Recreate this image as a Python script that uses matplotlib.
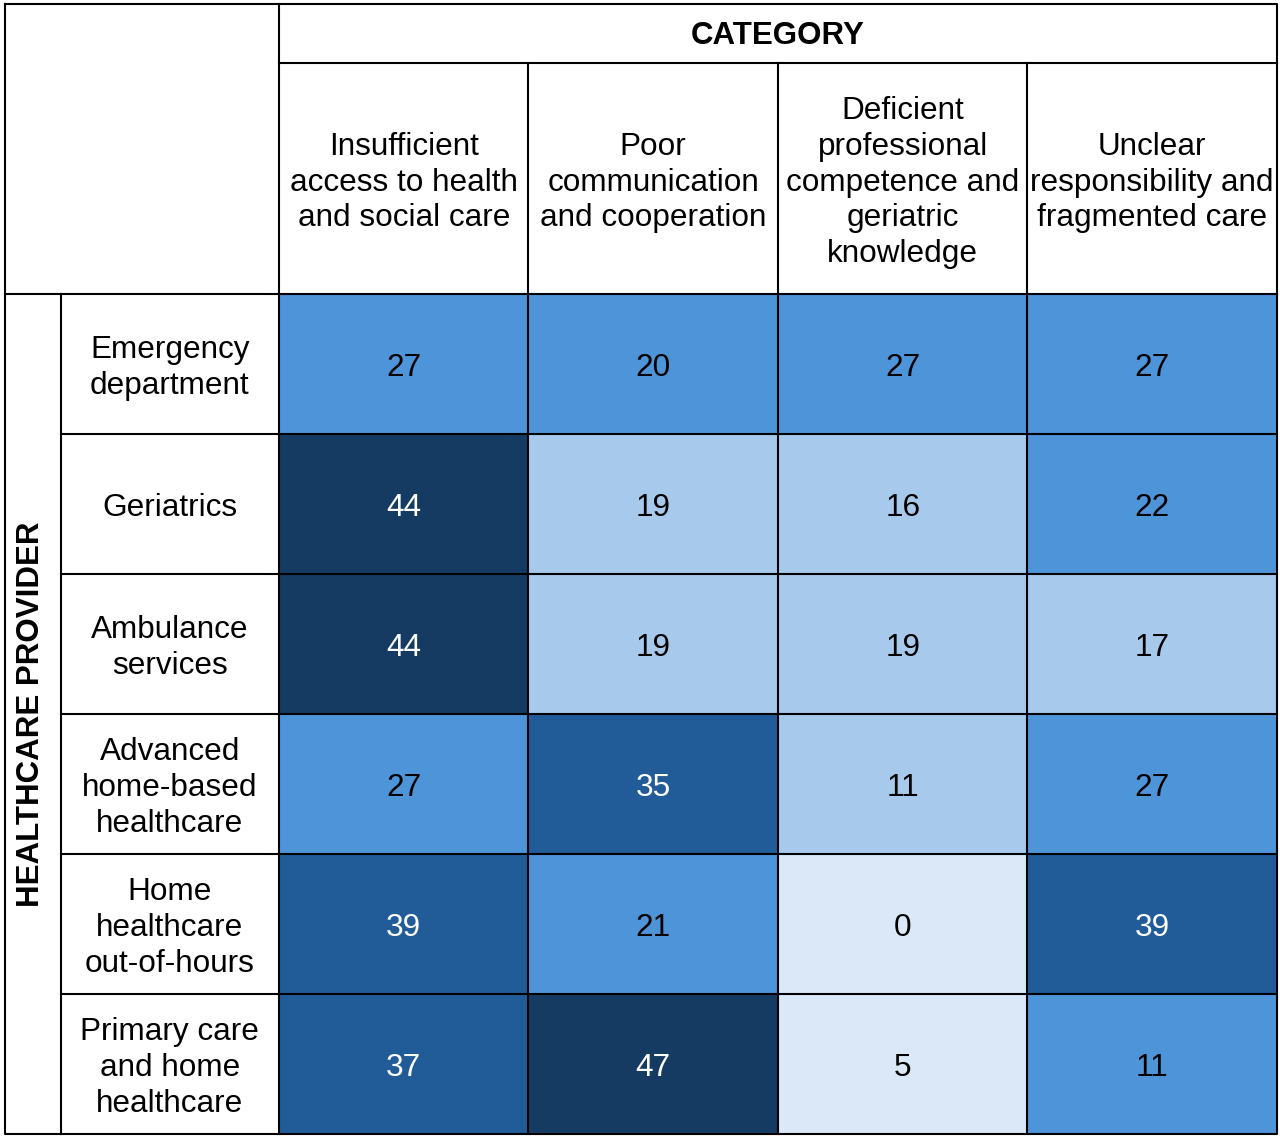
import numpy as np
import matplotlib.pyplot as plt
from matplotlib.colors import ListedColormap

plt.rcParams['font.family'] = ['Liberation Sans', 'DejaVu Sans']

# Data
categories = [
    'Insufficient\naccess to health\nand social care',
    'Poor\ncommunication\nand cooperation',
    'Deficient\nprofessional\ncompetence and\ngeriatric\nknowledge',
    'Unclear\nresponsibility and\nfragmented care',
]
providers = [
    'Emergency\ndepartment',
    'Geriatrics',
    'Ambulance\nservices',
    'Advanced\nhome-based\nhealthcare',
    'Home\nhealthcare\nout-of-hours',
    'Primary care\nand home\nhealthcare',
]
values = np.array([
    [27, 20, 27, 27],
    [44, 19, 16, 22],
    [44, 19, 19, 17],
    [27, 35, 11, 27],
    [39, 21, 0, 39],
    [37, 47, 5, 11],
])
# colour class of each cell (0 = lightest)
levels = np.array([
    [2, 2, 2, 2],
    [4, 1, 1, 2],
    [4, 1, 1, 1],
    [2, 3, 1, 2],
    [3, 2, 0, 3],
    [3, 4, 0, 2],
])
level_colors = ['#DAE8F7', '#A7C9EC', '#4D94D9', '#215C98', '#163B62']

# Layout (in cell units)
label_w = 0.874
vert_w = 0.224
sub_h = 1.65
cat_h = 0.42
dy = 0.03  # small downward nudge so text sits like the original

fig = plt.figure(figsize=(12.8, 11.38), dpi=100)
ax = fig.add_axes([5 / 1280, 4 / 1138, 1272 / 1280, 1130 / 1138])
ncols = len(categories)
nrows = len(providers)
x0 = -label_w - vert_w
ytop = -sub_h - cat_h
ax.set_xlim(x0, ncols)
ax.set_ylim(nrows, ytop)
ax.axis('off')

cmap = ListedColormap(level_colors)
ax.pcolormesh(np.arange(ncols + 1), np.arange(nrows + 1), levels,
              cmap=cmap, vmin=-0.5, vmax=len(level_colors) - 0.5)

fs = 22.7
for i in range(nrows):
    for j in range(ncols):
        v = values[i, j]
        ax.text(j + 0.5, i + 0.5 + dy, str(v), ha='center', va='center',
                fontsize=fs, color='white' if levels[i, j] >= 3 else 'black')
    ax.text(-label_w / 2, i + 0.5 + dy, providers[i], ha='center',
            va='center', fontsize=fs, linespacing=1.25)
for j in range(ncols):
    ax.text(j + 0.5, -sub_h / 2 + dy, categories[j], ha='center',
            va='center', fontsize=fs, linespacing=1.25)

ax.text(ncols / 2, -sub_h - cat_h / 2 + 0.02, 'CATEGORY', ha='center',
        va='center', fontsize=22.5, fontweight='bold')
ax.text(x0 + vert_w * 0.47, nrows / 2, 'HEALTHCARE PROVIDER', ha='center',
        va='center', rotation=90, fontsize=22.5, fontweight='bold')

# Grid lines
lw = 1.5
kw = dict(color='black', linewidth=lw, clip_on=False)
ax.plot([x0, ncols, ncols, x0, x0], [ytop, ytop, nrows, nrows, ytop], **kw)
ax.plot([0, 0], [ytop, nrows], **kw)
ax.plot([0, ncols], [-sub_h, -sub_h], **kw)
ax.plot([x0, ncols], [0, 0], **kw)
ax.plot([-label_w, -label_w], [0, nrows], **kw)
for j in range(1, ncols):
    ax.plot([j, j], [-sub_h, nrows], **kw)
for i in range(1, nrows):
    ax.plot([-label_w, ncols], [i, i], **kw)

fig.savefig('out.png', dpi=100)
